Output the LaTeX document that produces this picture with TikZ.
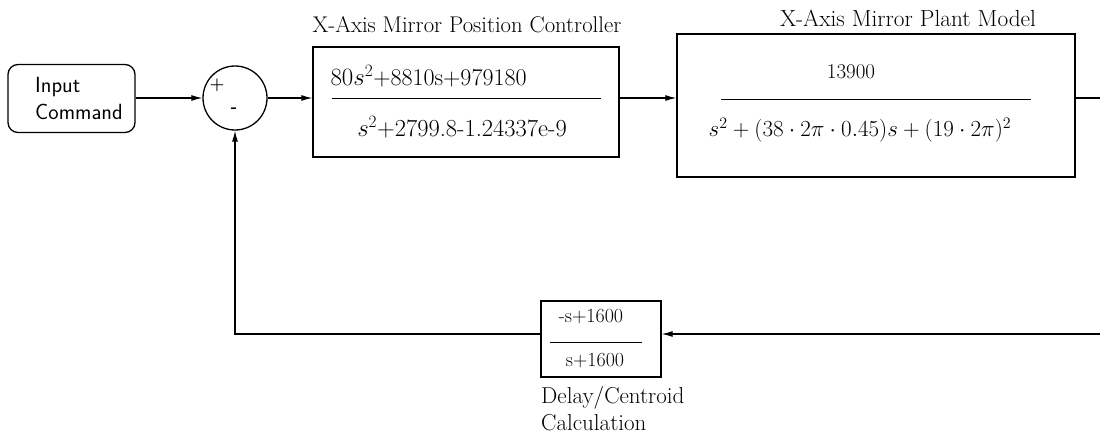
\documentclass[tikz,border=0pt]{standalone}
\usetikzlibrary{arrows.meta,calc}
\begin{document}
\begin{tikzpicture}[x=1pt,y=-1pt,
  blk/.style={draw,line width=1.3pt,inner sep=0pt},
  arr/.style={line width=1.1pt,-{Latex[length=11pt,width=6pt]}},
  wire/.style={line width=1.1pt},
  bar/.style={line width=1pt},
  lbl/.style={font=\fontsize{23}{27}\selectfont}]
\useasboundingbox (0,0) rectangle (1100,436);

% input block and summing junction
\node[blk,rounded corners=10pt,minimum width=127pt,minimum height=68pt] (in) at (71.5,98.5) {};
\node[align=left,anchor=west,inner sep=0pt,font=\fontsize{22}{27}\selectfont\sffamily]
      (inT) at (35,98) {Input\\Command};
\node[blk,circle,minimum size=64pt] (sum) at (235,98) {};
\node[font=\fontsize{17}{18}\selectfont\bfseries] (plus) at (217,85) {+};
\node[font=\fontsize{17}{18}\selectfont\bfseries] (minus) at (234,110) {-};

% controller block
\node[blk,minimum width=306pt,minimum height=110pt] (ctrl) at (466,102) {};
\node[font=\fontsize{22.7}{27}\selectfont] (ctrlT) at (467,25) {X-Axis Mirror Position Controller};
\node[font=\fontsize{24}{28}\selectfont,anchor=west] (cN) at (327,76) {$80s^2$+8810s+979180};
\node[font=\fontsize{24.5}{28}\selectfont] (cD) at (462,127) {$s^2$+2799.8-1.24337e-9};
\draw[bar] (332,98) -- (601,98);

% plant block
\node[blk,minimum width=398pt,minimum height=143pt] (plant) at (876,105.5) {};
\node[font=\fontsize{23.3}{27}\selectfont] (plantT) at (908,18) {X-Axis Mirror Plant Model};
\node[font=\fontsize{20}{24}\selectfont,scale=1.05] (pN) at (851,72) {13900};
\node[font=\fontsize{20}{24}\selectfont,scale=1.11] (pD) at (860,130)
      {$s^2+(38\cdot2\pi\cdot0.45)s+(19\cdot2\pi)^2$};
\draw[bar] (721,99) -- (1031,99);

% delay / centroid block
\node[blk,minimum width=120pt,minimum height=76pt] (delay) at (601,339) {};
\node[font=\fontsize{20}{24}\selectfont] (dN) at (591,317) {-s+1600};
\node[font=\fontsize{20}{24}\selectfont] (dD) at (595,361) {s+1600};
\draw[bar] (550,342) -- (642,342);
\node[lbl,anchor=west,align=left,inner sep=0pt] (dL) at (541,409)
      {Delay/Centroid\\Calculation};

% signal paths
\coordinate (outR) at (1100,98);
\coordinate (fbR) at (1100,334);
\draw[arr] (in.east |- sum) -- (sum.west);
\draw[arr] (sum.east) -- (ctrl.west |- sum);
\draw[arr] (ctrl.east |- sum) -- (plant.west |- sum);
\draw[wire] (plant.east |- outR) -- (outR);
\draw[arr] (fbR) -- (delay.east |- fbR);
\draw[arr] (delay.west |- fbR) -| (sum.south);
\end{tikzpicture}
\end{document}
